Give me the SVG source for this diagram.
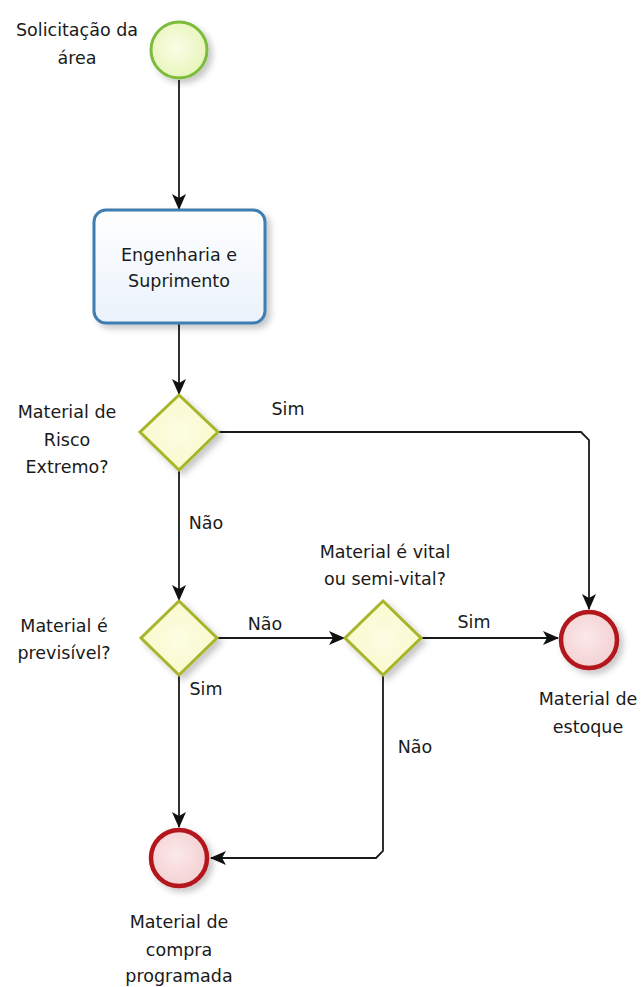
<svg xmlns="http://www.w3.org/2000/svg" width="644" height="987" viewBox="0 0 644 987">
  <defs>
    <style>
      .lbl { font-family: "DejaVu Sans", "Liberation Sans", sans-serif; font-size: 17.5px; fill: #1a1a1a; text-anchor: middle; }
      .conn { fill: none; stroke: #1a1a1a; stroke-width: 1.8; }
      .arrow { marker-end: url(#head); }
      .start { fill: url(#gStart); stroke: #7dbb3c; stroke-width: 3; }
      .end { fill: url(#gEnd); stroke: #b3171c; stroke-width: 4.5; }
      .gate { fill: url(#gGate); stroke: #a8b42a; stroke-width: 3; }
      .task { fill: url(#gTask); stroke: #3d7db0; stroke-width: 3; }
    </style>
    <radialGradient id="gStart" cx="0.45" cy="0.45" r="0.6">
      <stop offset="0" stop-color="#fbfde6"/>
      <stop offset="1" stop-color="#e6f4b8"/>
    </radialGradient>
    <radialGradient id="gEnd" cx="0.45" cy="0.45" r="0.6">
      <stop offset="0" stop-color="#fbe9ea"/>
      <stop offset="1" stop-color="#f3cfd1"/>
    </radialGradient>
    <radialGradient id="gGate" cx="0.5" cy="0.5" r="0.6">
      <stop offset="0" stop-color="#fdfde4"/>
      <stop offset="1" stop-color="#f8f8c8"/>
    </radialGradient>
    <linearGradient id="gTask" x1="0" y1="0" x2="0" y2="1">
      <stop offset="0" stop-color="#ffffff"/>
      <stop offset="1" stop-color="#eaf2fb"/>
    </linearGradient>
    <filter id="shadow" x="-30%" y="-30%" width="170%" height="170%">
      <feDropShadow dx="4" dy="4" stdDeviation="3" flood-color="#000" flood-opacity="0.22"/>
    </filter>
    <marker id="head" viewBox="0 0 16 16" markerWidth="16" markerHeight="16" refX="15" refY="8" orient="auto" markerUnits="userSpaceOnUse">
      <path d="M0,1 L16,8 L0,15 L4,8 Z" fill="#111"/>
    </marker>
  </defs>

  <rect width="644" height="987" fill="#ffffff"/>

  <!-- connectors -->
  <g id="connectors">
    <path class="conn arrow" d="M179,80 V209"/>
    <path class="conn arrow" d="M179,324 V394"/>
    <path class="conn arrow" d="M219,432 H581 L589,440 V609"/>
    <path class="conn arrow" d="M179,470 V600"/>
    <path class="conn arrow" d="M218,638 H344"/>
    <path class="conn arrow" d="M422,638 H558"/>
    <path class="conn arrow" d="M179,676 V827"/>
    <path class="conn arrow" d="M383,676 V851 L376,858 H211"/>
    <text class="lbl" x="288" y="415">Sim</text>
    <text class="lbl" x="206" y="529">Não</text>
    <text class="lbl" x="265" y="630">Não</text>
    <text class="lbl" x="474" y="628">Sim</text>
    <text class="lbl" x="206" y="695">Sim</text>
    <text class="lbl" x="415" y="753">Não</text>
  </g>

  <!-- start event -->
  <g id="start">
    <circle class="start" cx="179" cy="50" r="28" filter="url(#shadow)"/>
    <text class="lbl" x="77" y="36">Solicitação da</text>
    <text class="lbl" x="77" y="64">área</text>
  </g>

  <!-- task -->
  <g id="engenharia">
    <rect class="task" x="94" y="210" width="171" height="113" rx="12" filter="url(#shadow)"/>
    <text class="lbl" x="179" y="261">Engenharia e</text>
    <text class="lbl" x="179" y="287">Suprimento</text>
  </g>

  <!-- gateway: risco extremo -->
  <g id="gw-risco">
    <path class="gate" d="M179,395 L218,432 L179,470 L140,432 Z" filter="url(#shadow)"/>
    <text class="lbl" x="67" y="418">Material de</text>
    <text class="lbl" x="67" y="446">Risco</text>
    <text class="lbl" x="67" y="473">Extremo?</text>
  </g>

  <!-- gateway: previsivel -->
  <g id="gw-previsivel">
    <path class="gate" d="M179,601 L217,638 L179,675 L141,638 Z" filter="url(#shadow)"/>
    <text class="lbl" x="64" y="632">Material é</text>
    <text class="lbl" x="64" y="659">previsível?</text>
  </g>

  <!-- gateway: vital -->
  <g id="gw-vital">
    <path class="gate" d="M383,601 L421,638 L383,675 L345,638 Z" filter="url(#shadow)"/>
    <text class="lbl" x="385" y="558">Material é vital</text>
    <text class="lbl" x="385" y="585">ou semi-vital?</text>
  </g>

  <!-- end event: estoque -->
  <g id="end-estoque">
    <circle class="end" cx="589" cy="640" r="28" filter="url(#shadow)"/>
    <text class="lbl" x="588" y="705">Material de</text>
    <text class="lbl" x="588" y="733">estoque</text>
  </g>

  <!-- end event: compra programada -->
  <g id="end-compra">
    <circle class="end" cx="179" cy="858" r="28" filter="url(#shadow)"/>
    <text class="lbl" x="179" y="928">Material de</text>
    <text class="lbl" x="179" y="956">compra</text>
    <text class="lbl" x="179" y="982">programada</text>
  </g>
</svg>
